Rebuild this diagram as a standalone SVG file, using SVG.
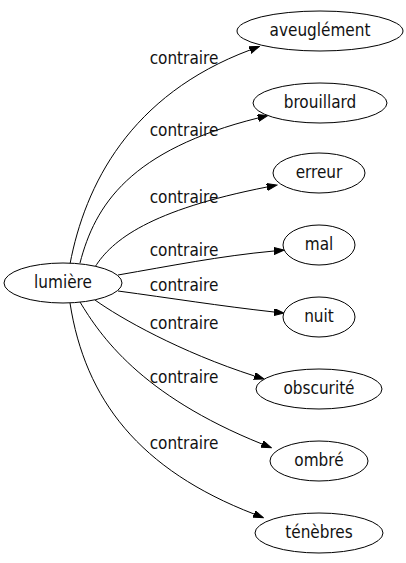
<svg xmlns="http://www.w3.org/2000/svg" width="406" height="563" viewBox="0 0 406 563">
<defs>
<marker id="arr" markerUnits="userSpaceOnUse" markerWidth="11" markerHeight="8" refX="0" refY="3.5" orient="auto" viewBox="0 0 11 8">
<path d="M0,0 L10,3.5 L0,7 Z" fill="#000" stroke="#000" stroke-width="1"/>
</marker>
<style>
.n ellipse{fill:#fff;stroke:#000;stroke-width:1}
text{font-family:"DejaVu Sans Condensed","DejaVu Sans","Liberation Sans",sans-serif;font-stretch:condensed;font-size:17px;fill:#111;text-anchor:middle}
.e path{fill:none;stroke:#000;stroke-width:1;marker-end:url(#arr)}
</style>
</defs>
<rect width="406" height="563" fill="#fff"/>
<g id="edges" class="e">
<path d="M70,264 C85,185 130,95 250,50"/>
<path d="M80,263 C95,205 130,150 258,118"/>
<path d="M95,267 C112,240 150,210 267,187"/>
<path d="M118,275 C170,266 220,256 274,251"/>
<path d="M118,291 C170,298 220,306 274,312"/>
<path d="M95,300 C120,318 180,352 254.5,376"/>
<path d="M80,302 C100,335 140,395 262,444"/>
<path d="M70,303 C85,400 140,470 254,514"/>
<text x="184" y="64">contraire</text>
<text x="184" y="136">contraire</text>
<text x="184" y="203">contraire</text>
<text x="184" y="256">contraire</text>
<text x="184" y="291">contraire</text>
<text x="184" y="329">contraire</text>
<text x="184" y="383">contraire</text>
<text x="184" y="449">contraire</text>
</g>
<g id="lumiere" class="n"><ellipse cx="63" cy="283" rx="59" ry="20"/><text x="63" y="288">lumière</text></g>
<g id="aveuglement" class="n"><ellipse cx="320" cy="31" rx="83" ry="20"/><text x="320" y="36">aveuglément</text></g>
<g id="brouillard" class="n"><ellipse cx="320" cy="103" rx="67" ry="20"/><text x="320" y="108">brouillard</text></g>
<g id="erreur" class="n"><ellipse cx="319" cy="173" rx="46" ry="20"/><text x="319" y="178">erreur</text></g>
<g id="mal" class="n"><ellipse cx="319" cy="245" rx="36" ry="20"/><text x="319" y="250">mal</text></g>
<g id="nuit" class="n"><ellipse cx="319" cy="317" rx="36" ry="20"/><text x="319" y="322">nuit</text></g>
<g id="obscurite" class="n"><ellipse cx="319" cy="389" rx="63" ry="20"/><text x="319" y="394">obscurité</text></g>
<g id="ombre" class="n"><ellipse cx="319" cy="461" rx="49" ry="20"/><text x="319" y="466">ombré</text></g>
<g id="tenebres" class="n"><ellipse cx="319" cy="533" rx="64" ry="20"/><text x="319" y="538">ténèbres</text></g>
</svg>
